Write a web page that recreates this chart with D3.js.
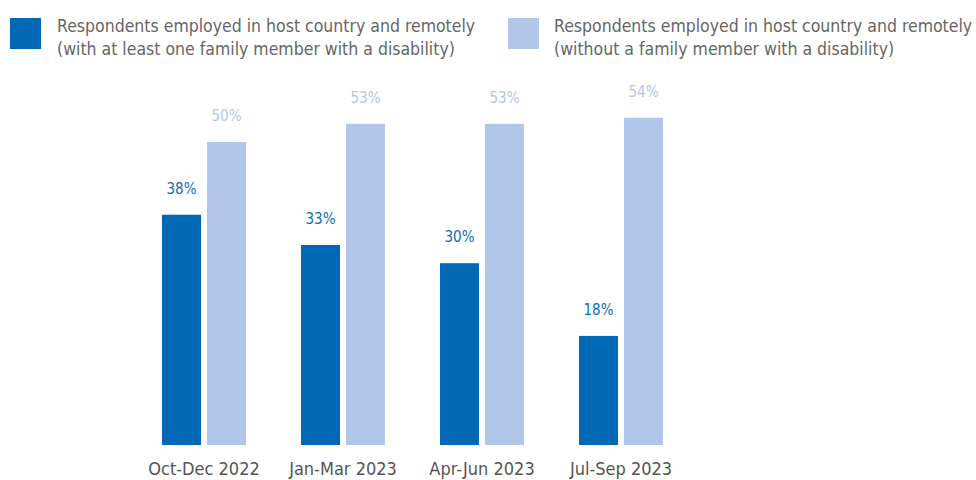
<!DOCTYPE html>
<html>
<head>
<meta charset="utf-8">
<script src="https://cdn.jsdelivr.net/npm/d3@7"></script>
<style>
  html, body { margin: 0; padding: 0; background: #fff; }
  svg { display: block; }
  text { font-family: "Liberation Sans Narrow", "DejaVu Sans Condensed", "Roboto", sans-serif; }
</style>
</head>
<body>
<svg id="chart" width="976" height="480"></svg>
<script>
const categories = ["Oct-Dec 2022", "Jan-Mar 2023", "Apr-Jun 2023", "Jul-Sep 2023"];
const seriesNames = ["with", "without"];
const withDisability = [38, 33, 30, 18];
const withoutDisability = [50, 53, 53, 54];
const legendLines = [
  ["Respondents employed in host country and remotely", "(with at least one family member with a disability)"],
  ["Respondents employed in host country and remotely", "(without a family member with a disability)"]
];
const colors = ["#0068b4", "#b1c6e8"];
const labelColors = ["#0f6db6", "#b3c6e6"];

const svg = d3.select("#chart");

const x = d3.scaleBand().domain(categories).range([162, 663]).paddingInner(1 - 84 / 139).paddingOuter(0);
const xs = d3.scaleBand().domain(seriesNames).range([0, x.bandwidth()]).paddingInner(6 / 45).paddingOuter(0);
const y = d3.scaleLinear().domain([0, 100]).range([445, -161]);

const data = categories.map((c, i) => ({ cat: c, vals: [withDisability[i], withoutDisability[i]] }));

const g = svg.append("g");
const groups = g.selectAll("g.grp").data(data).join("g")
  .attr("class", "grp")
  .attr("transform", d => `translate(${x(d.cat)},0)`);

groups.selectAll("rect").data(d => d.vals.map((v, j) => ({ v, s: seriesNames[j], j }))).join("rect")
  .attr("x", d => xs(d.s))
  .attr("width", xs.bandwidth())
  .attr("y", d => y(d.v))
  .attr("height", d => y(0) - y(d.v))
  .attr("fill", d => colors[d.j]);

groups.selectAll("text.val").data(d => d.vals.map((v, j) => ({ v, s: seriesNames[j], j }))).join("text")
  .attr("class", "val")
  .attr("x", d => xs(d.s) + xs.bandwidth() / 2)
  .attr("y", d => y(d.v) - 21)
  .attr("text-anchor", "middle")
  .attr("font-size", 15)
  .attr("fill", d => labelColors[d.j])
  .text(d => d.v + "%");

// x axis labels
const xAxis = svg.append("g").attr("transform", "translate(0,445)")
  .call(d3.axisBottom(x).tickSize(0).tickPadding(17));
xAxis.select(".domain").remove();
xAxis.selectAll("text")
  .attr("font-size", 18)
  .attr("fill", "#555")
  .style("font-family", '"Liberation Sans Narrow", "DejaVu Sans Condensed", sans-serif');

// legend
const legendX = [10, 508];
const leg = svg.append("g").selectAll("g").data(legendLines).join("g")
  .attr("transform", (d, i) => `translate(${legendX[i]},18)`);
leg.append("rect").attr("width", 31).attr("height", 31).attr("fill", (d, i) => colors[i]);
leg.append("text")
  .attr("x", (d, i) => i === 0 ? 47 : 46)
  .attr("font-size", 17.5)
  .attr("fill", "#666")
  .selectAll("tspan").data(d => d).join("tspan")
  .attr("x", function() { return d3.select(this.parentNode).attr("x"); })
  .attr("y", (d, k) => 13.5 + k * 23.5)
  .text(d => d);
</script>
</body>
</html>
